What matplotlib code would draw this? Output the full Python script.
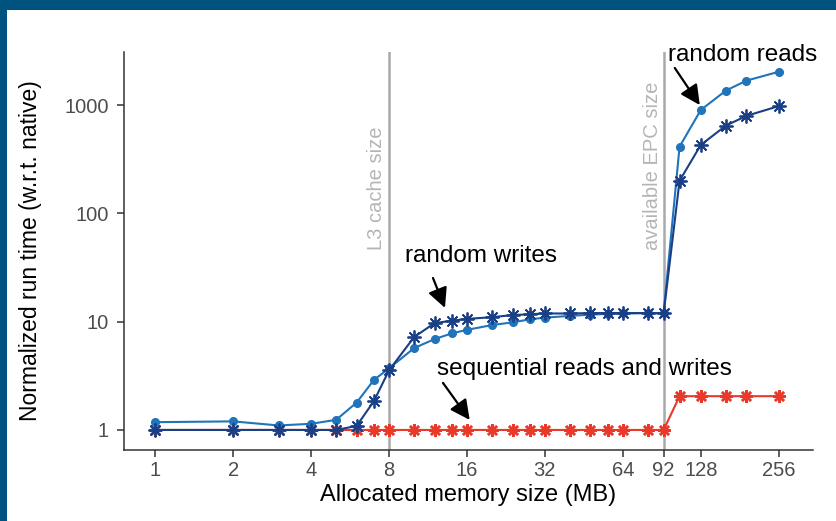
import matplotlib
matplotlib.use("Agg")
import matplotlib.pyplot as plt
from matplotlib.patches import Rectangle

plt.rcParams["font.family"] = ["Liberation Sans", "DejaVu Sans"]

# allocated memory (MB) and normalized run times
mem = [1, 2, 3, 4, 5, 6, 7, 8, 10, 12, 14, 16, 20, 24, 28, 32, 40, 48, 56, 64, 80, 92,
       106, 128, 160, 192, 256]
rand_reads = [1.18, 1.20, 1.10, 1.14, 1.24, 1.79, 2.9, 3.7, 5.7, 6.9, 7.8, 8.4, 9.3, 9.85,
              10.5, 10.9, 11.3, 11.6, 11.8, 11.9, 12.0, 12.0,
              413, 900, 1360, 1680, 2030]
rand_writes = [1.0, 1.0, 1.0, 1.0, 1.0, 1.09, 1.85, 3.55, 7.2, 9.7, 10.2, 10.6, 11.0, 11.5,
               11.7, 11.9, 11.9, 12.0, 12.0, 12.0, 12.0, 11.9,
               200, 428, 646, 794, 978]
seq_rw = [1.0] * 22 + [2.05] * 5

xticks = [1, 2, 4, 8, 16, 32, 64, 92, 128, 256]
yticks = [1, 10, 100, 1000]
l3_size, epc_size = 8, 92

READS, WRITES, SEQ = "#1f74bb", "#1a3f85", "#e8392a"
GRID = "#a9a9a9"

fig = plt.figure(figsize=(8.36, 5.21), dpi=100)
ax = fig.add_axes([0.1483, 0.1363, 0.8242, 0.7639])

ax.set_xscale("log", base=2)
ax.set_yscale("log", base=10)

for xv in (l3_size, epc_size):
    ax.axvline(xv, color=GRID, lw=1.8, zorder=1)

star = (8, 2, 0)
ax.plot(mem, seq_rw, color=SEQ, lw=1.5, marker=star, ms=9, mew=1.8, zorder=2)
ax.plot(mem, rand_reads, color=READS, lw=1.5, marker="o", ms=5.5, zorder=3)
ax.plot(mem, rand_writes, color=WRITES, lw=1.5, marker=star, ms=10, mew=1.3, zorder=4)

ax.set_xlim(2 ** -0.4, 2 ** 8.44)
ax.set_ylim(10 ** -0.185, 10 ** 3.49)
ax.set_xticks(xticks)
ax.set_xticklabels([str(t) for t in xticks])
ax.set_yticks(yticks)
ax.set_yticklabels([str(t) for t in yticks])
ax.minorticks_off()
ax.tick_params(axis="both", length=5, width=1.1, color="#333333", labelcolor="#4d4d4d",
               labelsize=14.5, pad=3)
ax.tick_params(axis="y", pad=6)
for side in ("top", "right"):
    ax.spines[side].set_visible(False)
for side in ("left", "bottom"):
    ax.spines[side].set_color("#333333")
    ax.spines[side].set_linewidth(1.1)

ax.set_xlabel("Allocated memory size (MB)", fontsize=17, labelpad=3)
ax.set_ylabel("Normalized run time (w.r.t. native)", fontsize=16.5, labelpad=16)

# threshold labels
ax.text(7.19, 45.9, "L3 cache size", rotation=90, ha="center", va="bottom",
        color="#b5b5b5", fontsize=14.5)
ax.text(83.6, 45.9, "available EPC size", rotation=90, ha="center", va="bottom",
        color="#b5b5b5", fontsize=14.5)

arrow = dict(arrowstyle="-|>", color="black", lw=1.6, mutation_scale=30, shrinkA=0, shrinkB=0)
ax.annotate("", xy=(126.9, 1000), xytext=(101.6, 2200), arrowprops=arrow)
ax.text(95.5, 2900, "random reads", ha="left", va="center", fontsize=17.5)
ax.annotate("", xy=(13.16, 13.4), xytext=(11.83, 25.3), arrowprops=arrow)
ax.text(9.22, 40.4, "random writes", ha="left", va="center", fontsize=17.5)
ax.annotate("", xy=(16.4, 1.237), xytext=(12.93, 2.72), arrowprops=arrow)
ax.text(12.25, 3.66, "sequential reads and writes", ha="left", va="center", fontsize=17.5)

# frame strips along top and left edge
fig.patches.append(Rectangle((0, 1 - 10 / 521), 1, 10 / 521, transform=fig.transFigure,
                             facecolor="#00527f", edgecolor="none"))
fig.patches.append(Rectangle((0, 0), 7 / 836, 1, transform=fig.transFigure,
                             facecolor="#00527f", edgecolor="none"))

fig.savefig("out.png", dpi=100)
